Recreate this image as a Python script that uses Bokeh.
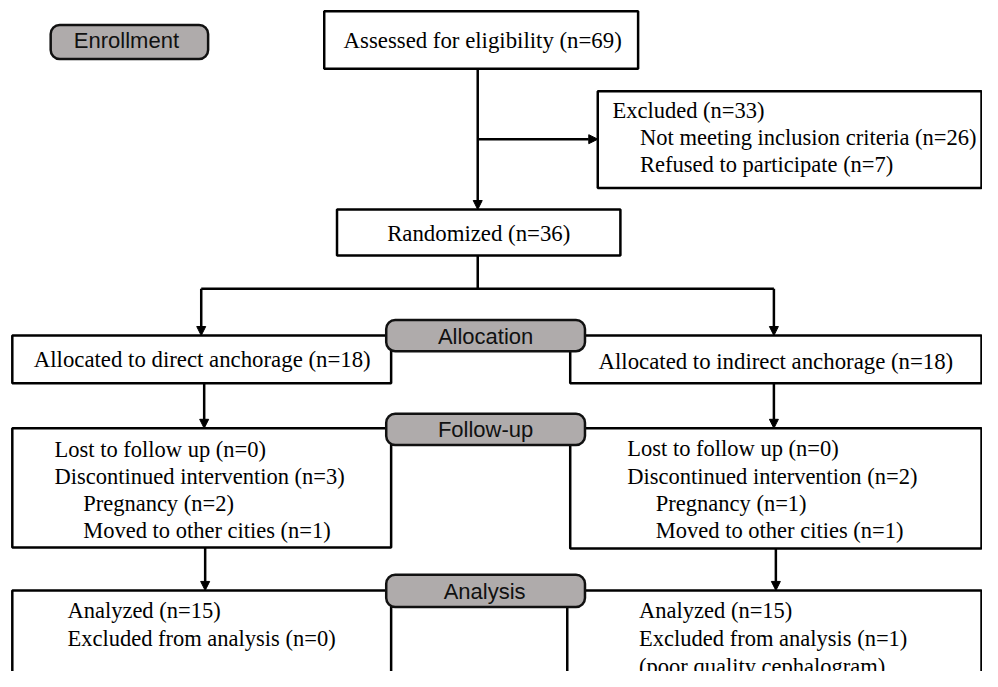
from bokeh.plotting import figure
from bokeh.models import Range1d, ColumnDataSource, BoxAnnotation, Arrow, NormalHead
from bokeh.core.properties import value
from bokeh.embed import file_html
from bokeh.resources import INLINE

# ---- content ----
stage_labels = ["Enrollment", "Allocation", "Follow-up", "Analysis"]

box_names = ["assessed", "excluded", "randomized", "alloc_direct", "alloc_indirect",
             "follow_direct", "follow_indirect", "analysis_direct", "analysis_indirect"]

centered_texts = ["Assessed for eligibility (n=69)", "Randomized (n=36)",
                  "Allocated to direct anchorage (n=18)", "Allocated to indirect anchorage (n=18)"]

excluded_lines = ["Excluded (n=33)", "Not meeting inclusion criteria (n=26)", "Refused to participate (n=7)"]
follow_direct_lines = ["Lost to follow up (n=0)", "Discontinued intervention (n=3)",
                       "Pregnancy (n=2)", "Moved to other cities (n=1)"]
follow_indirect_lines = ["Lost to follow up (n=0)", "Discontinued intervention (n=2)",
                         "Pregnancy (n=1)", "Moved to other cities (n=1)"]
analysis_direct_lines = ["Analyzed (n=15)", "Excluded from analysis (n=0)"]
analysis_indirect_lines = ["Analyzed (n=15)", "Excluded from analysis (n=1)", "(poor quality cephalogram)"]

# ---- layout geometry (reference pixel coordinates) ----
box_left = [329, 607, 342, 12, 579, 12, 579, 12, 576]
box_right = [648, 997, 630, 397, 997, 397, 997, 397, 997]
box_top = [11, 93, 214, 343, 343, 438, 438, 604, 604]
box_bottom = [70, 192, 261, 392, 392, 560, 561, 720, 720]

pill_left = [51, 392, 392, 392]
pill_right = [211, 594, 594, 594]
pill_top = [25, 327, 423, 588]
pill_bottom = [60, 359, 455, 621]
pill_text_x = [128, 493, 493, 492]
pill_text_y = [49, 352, 447, 613]

centered_x = [490, 486, 205, 788]
centered_y = [49, 247, 376, 378]

left_text_x = ([622, 650, 650] + [55, 55, 84, 84] + [637, 637, 666, 666]
               + [68, 68] + [649, 649, 649])
left_text_y = ([121, 148, 176] + [468, 495, 523, 551] + [467, 495, 523, 551]
               + [633, 661] + [633, 661, 690])
left_texts = (excluded_lines + follow_direct_lines + follow_indirect_lines
              + analysis_direct_lines + analysis_indirect_lines)

# plain connector lines
seg_x0 = [485, 204]
seg_y0 = [261, 295]
seg_x1 = [485, 786]
seg_y1 = [295, 295]

# arrows
arr_x0 = [485, 485, 204, 786, 207, 786, 208, 788]
arr_y0 = [70, 142, 295, 295, 392, 392, 560, 561]
arr_x1 = [485, 607, 204, 786, 207, 786, 208, 788]
arr_y1 = [214, 142, 343, 343, 438, 438, 604, 604]

BASELINE_FIX = 8  # renderer draws alphabetic baseline slightly lower

SERIF = value("Liberation Serif")
SANS = value("Liberation Sans")

p = figure(width=982, height=671, output_backend="svg", toolbar_location=None,
           x_range=Range1d(0, 998), y_range=Range1d(687, 0),
           x_axis_type=None, y_axis_type=None, min_border=0)
p.grid.visible = False
p.outline_line_color = None
p.background_fill_color = "white"
p.border_fill_color = "white"

# boxes
p.quad(left=box_left, right=box_right, top=box_top, bottom=box_bottom,
       fill_color="white", line_color="black", line_width=2.5)

# connector lines
p.segment(x0=seg_x0, y0=seg_y0, x1=seg_x1, y1=seg_y1, line_color="black", line_width=2.5)

arrow_src = ColumnDataSource(dict(x0=arr_x0, y0=arr_y0, x1=arr_x1, y1=arr_y1))
p.add_layout(Arrow(end=NormalHead(size=9, fill_color="black", line_color="black", line_width=1),
                   source=arrow_src, x_start="x0", y_start="y0", x_end="x1", y_end="y1",
                   line_color="black", line_width=2.5))

# stage pills
for l, r, t, b in zip(pill_left, pill_right, pill_top, pill_bottom):
    p.add_layout(BoxAnnotation(left=l, right=r, top=t, bottom=b,
                               fill_color="#afabab", fill_alpha=1.0,
                               line_color="#111111", line_alpha=1.0,
                               line_width=2.5, border_radius=9))

p.text(x=pill_text_x, y=[v - BASELINE_FIX for v in pill_text_y], text=stage_labels,
       text_font=SANS, text_font_size="22px", text_align="center",
       text_baseline="alphabetic", text_color="#111111", level="overlay")

# box texts
p.text(x=centered_x, y=[v - BASELINE_FIX for v in centered_y], text=centered_texts,
       text_font=SERIF, text_font_size="22.8px", text_align="center",
       text_baseline="alphabetic", text_color="black")
p.text(x=left_text_x, y=[v - BASELINE_FIX for v in left_text_y], text=left_texts,
       text_font=SERIF, text_font_size="22.5px", text_align="left",
       text_baseline="alphabetic", text_color="black")

open("out.html", "w").write(file_html(p, INLINE))
